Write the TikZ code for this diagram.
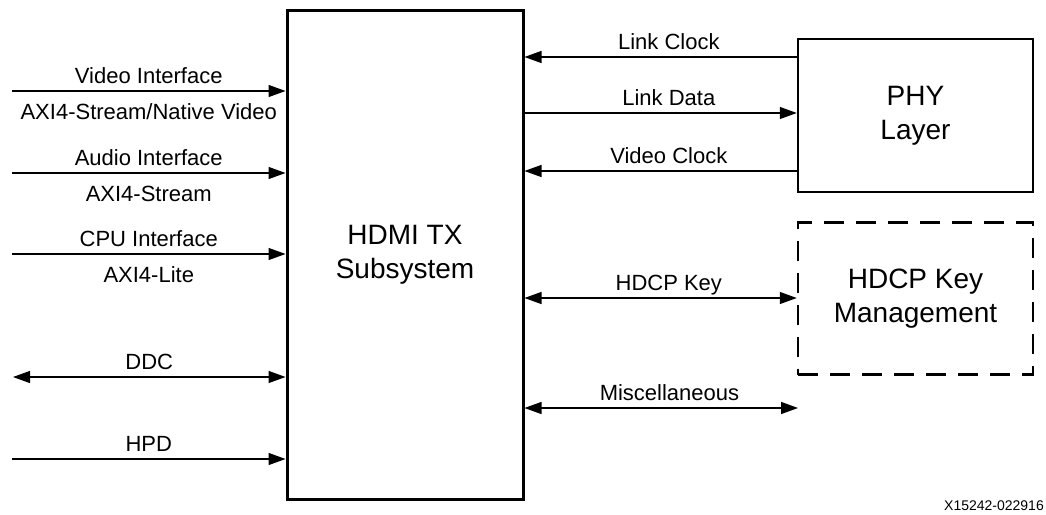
\documentclass[tikz,border=0pt]{standalone}
\usepackage{fontspec}
\setmainfont{Liberation Sans}
\usetikzlibrary{arrows.meta,positioning}
\newcommand{\sigfont}{\fontsize{22}{26}\selectfont}
\newcommand{\blkfont}{\fontsize{28}{34}\selectfont}

\begin{document}
\begin{tikzpicture}[x=1pt,y=-1pt,
	block/.style={draw,line width=2.5pt,align=center,font=\blkfont,inner sep=0pt},
	sig/.style={line width=1.2pt,>={Triangle[length=17pt,width=12pt]}},
	over/.style={font=\sigfont,anchor=base,yshift=8pt},
	under/.style={font=\sigfont,anchor=base,yshift=-28pt}]
	\useasboundingbox (0,0) rectangle (1046,514);
	% blocks
	\node[block,line width=3pt,minimum width=236pt,minimum height=489pt] (sub) at (405,254.5) {HDMI TX\\Subsystem};
	\node[block,minimum width=235pt,minimum height=153pt] (phy) at (915.5,115.5) {PHY\\Layer};
	\node[block,dash pattern=on 20pt off 12pt,minimum width=235pt,minimum height=152pt,below=28pt of phy] (hdcp) {HDCP Key\\Management};
	% signal rows
	\coordinate (vid) at (12,91);
	\coordinate (aud) at (12,173);
	\coordinate (cpu) at (12,254);
	\coordinate (ddc) at (13,377);
	\coordinate (hpd) at (12,459);
	\coordinate (lclk) at (0,57);
	\coordinate (ldat) at (0,113);
	\coordinate (vclk) at (0,171);
	\coordinate (hkey) at (0,298);
	\coordinate (misc) at (798,408);
	% left side
	\draw[sig,->] (vid) -- node[over]{Video Interface} node[under]{AXI4-Stream/Native Video} (vid -| sub.west);
	\draw[sig,->] (aud) -- node[over]{Audio Interface} node[under]{AXI4-Stream} (aud -| sub.west);
	\draw[sig,->] (cpu) -- node[over]{CPU Interface} node[under]{AXI4-Lite} (cpu -| sub.west);
	\draw[sig,<->] (ddc) -- node[over]{DDC} (ddc -| sub.west);
	\draw[sig,->] (hpd) -- node[over]{HPD} (hpd -| sub.west);
	% right side
	\draw[sig,<-] (sub.east |- lclk) -- node[over,pos=.53]{Link Clock} (phy.west |- lclk);
	\draw[sig,->] (sub.east |- ldat) -- node[over,pos=.53]{Link Data} (phy.west |- ldat);
	\draw[sig,<-] (sub.east |- vclk) -- node[over,pos=.53]{Video Clock} (phy.west |- vclk);
	\draw[sig,<->] (sub.east |- hkey) -- node[over,pos=.53]{HDCP Key} (hdcp.west |- hkey);
	\draw[sig,<->] (sub.east |- misc) -- node[over,pos=.53]{Miscellaneous} (misc);
	\node[font=\fontsize{14}{16}\selectfont,anchor=base east,inner sep=0pt] (fig) at (1044,510) {X15242-022916};
\end{tikzpicture}
\end{document}
